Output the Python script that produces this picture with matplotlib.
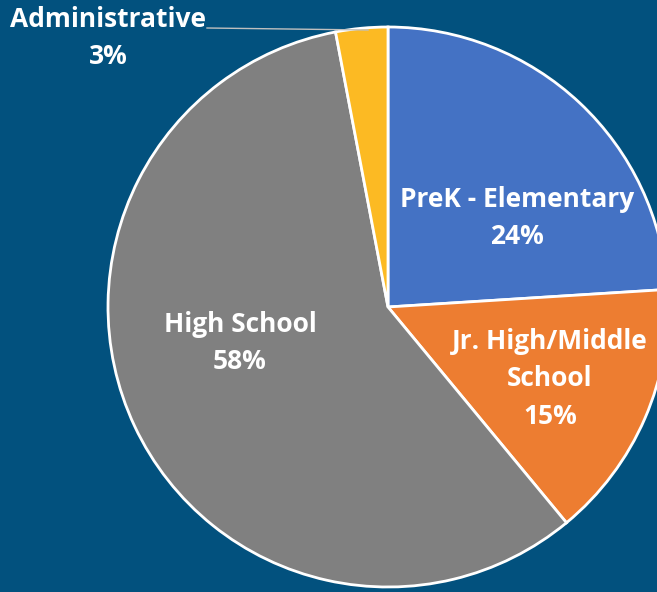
import matplotlib.pyplot as plt

# data
labels = ["PreK - Elementary", "Jr. High/Middle\nSchool", "High School", "Administrative"]
shares = [24, 15, 58, 3]
colors = ["#4472C4", "#ED7D31", "#808080", "#FCBA23"]

bg = "#02517E"
W, H = 657, 592

fig = plt.figure(figsize=(W / 100, H / 100), dpi=100, facecolor=bg)
ax = fig.add_axes([0, 0, 1, 1])
ax.set_facecolor(bg)

# pie in pixel coords (y measured from bottom)
cx, cy, r = 388, H - 307, 280
ax.pie(shares, colors=colors, startangle=90, counterclock=False,
       center=(cx, cy), radius=r, frame=True,
       wedgeprops=dict(edgecolor="white", linewidth=2))
ax.set_xlim(0, W)
ax.set_ylim(0, H)
ax.set_aspect("equal")
ax.axis("off")

font = dict(color="white", fontsize=19, fontweight="bold", family="Open Sans",
            ha="center", va="center", linespacing=1.5)

# label positions (pixel coords from top)
ax.text(517, H - 218, labels[0] + "\n" + f"{shares[0]}%", **font)
ax.text(550, H - 379, labels[1] + "\n" + f"{shares[1]}%", **font)
ax.text(240, H - 343, labels[2] + "\n" + f"{shares[2]}%", **font)
ax.text(108, H - 38, labels[3] + "\n" + f"{shares[3]}%", **font)

# leader line for the small slice
ax.plot([207, 368], [H - 28, H - 30], color="#BFBFBF", linewidth=1)

fig.savefig("out.png", dpi=100, facecolor=bg)
